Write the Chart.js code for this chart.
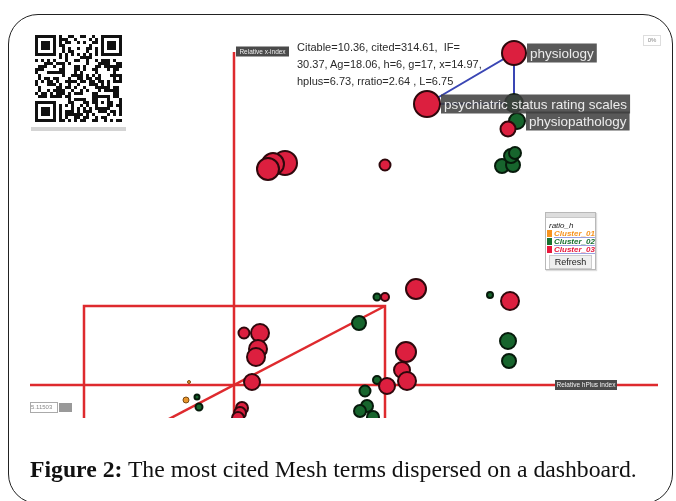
<!DOCTYPE html>
<html lang="en">
<head>
<meta charset="UTF-8">
<title>The most cited Mesh terms dispersed on a dashboard</title>
<script src="https://cdn.jsdelivr.net/npm/chart.js"></script>
<style>
  body { margin:0; width:676px; height:501px; overflow:hidden; position:relative; background:#fff; font-family:"Liberation Sans", Arial, sans-serif; }
  #frame { position:absolute; left:8px; top:14px; width:665px; height:490px; border:1px solid #222; border-radius:30px; box-sizing:border-box; }
  #chart { position:absolute; left:0; top:0; }
  #qr { position:absolute; left:35px; top:35px; }
  #qrbar { position:absolute; left:31px; top:127px; width:95px; height:4px; background:#d4d4d4; }
  #info { position:absolute; left:297px; top:39px; font-size:11px; line-height:17px; color:#2a2a2a; white-space:nowrap; }
  #pct { position:absolute; left:643px; top:35px; width:16px; height:9px; border:1px solid #ddd; font-size:6px; line-height:9px; color:#888; text-align:center; }
  #zoombox { position:absolute; left:30px; top:402px; width:26px; height:9px; border:1px solid #aaa; font-size:6px; line-height:9px; color:#888; }
  #zoombtn { position:absolute; left:59px; top:403px; width:13px; height:9px; background:#999; }
  #legend { position:absolute; left:545px; top:212px; width:49px; height:56px; border:1px solid #b8b8b8; background:#fff; box-shadow:1px 1px 1px #ddd; overflow:hidden; }
  #legend .bar { height:4px; background:#ddd; border-bottom:1px solid #c8c8c8; }
  #legend .ttl { font-size:8px; font-style:italic; color:#222; margin:3px 0 0 3px; line-height:9px; }
  #legend .item { font-size:8px; font-style:italic; font-weight:bold; line-height:8px; height:8px; margin-left:1px; white-space:nowrap; }
  #legend .item span.sw { display:inline-block; width:5px; height:7px; vertical-align:top; margin-right:2px; }
  #legend .item span.t { text-decoration:underline; text-decoration-color:#9aa0e0; }
  #legend .btn { margin:1px 3px 0 3px; height:12px; border:1px solid #ccc; background:#efefef; font-size:9px; line-height:12px; text-align:center; color:#222; }
  #caption { position:absolute; left:30px; top:456px; font-family:"Liberation Serif", "Times New Roman", serif; font-size:21px; color:#111; white-space:nowrap; }
</style>
</head>
<body>
<div id="frame"></div>
<canvas id="chart" width="676" height="501"></canvas>
<canvas id="qr" width="87" height="87"></canvas>
<div id="qrbar"></div>
<div id="info">Citable=10.36, cited=314.61,&nbsp; IF=<br>30.37, Ag=18.06, h=6, g=17, x=14.97,<br>hplus=6.73, rratio=2.64 , L=6.75</div>
<div id="pct">0%</div>
<div id="zoombox">5.11503</div>
<div id="zoombtn"></div>
<div id="legend">
  <div class="bar"></div>
  <div class="ttl">ratio_h</div>
  <div class="item"><span class="sw" style="background:#f7931e"></span><span class="t" style="color:#f7931e">Cluster_01</span></div>
  <div class="item"><span class="sw" style="background:#17702f"></span><span class="t" style="color:#17702f">Cluster_02</span></div>
  <div class="item"><span class="sw" style="background:#e8173c"></span><span class="t" style="color:#e8173c">Cluster_03</span></div>
  <div class="btn">Refresh</div>
</div>
<div id="caption"><b>Figure 2:</b> The most cited Mesh terms dispersed on a dashboard.</div>

<script>
  // cluster bubbles: relative hPlus index (x), relative x-index (y), bubble radius
  const cluster01X = [-0.45, -0.48];
  const cluster01Y = [0.03, -0.15];
  const cluster01R = [1.5, 3];

  const cluster02X = [2.80, 2.83, 2.68, 2.79, 2.77, 2.81, 1.43, 1.25, 2.56, 2.74, 2.75, 1.43, 1.31, 1.33, 1.26, 1.39, -0.37, -0.35];
  const cluster02Y = [2.82, 2.64, 2.19, 2.20, 2.29, 2.32, 0.88, 0.62, 0.90, 0.44, 0.24, 0.05, -0.06, -0.21, -0.26, -0.32, -0.12, -0.22];
  const cluster02R = [9, 8, 7, 7, 7, 6, 3.5, 7, 3, 8, 7, 4, 5.5, 6, 6, 6, 2.5, 3.5];

  const cluster03X = [2.80, 1.93, 2.74, 0.51, 0.39, 0.34, 1.51, 1.82, 1.51, 2.76, 0.10, 0.26, 0.24, 0.22, 0.18, 1.72, 1.68, 1.73, 1.53, 0.08, 0.06, 0.04];
  const cluster03Y = [3.32, 2.81, 2.56, 2.22, 2.21, 2.16, 2.20, 0.96, 0.88, 0.84, 0.52, 0.52, 0.36, 0.28, 0.03, 0.33, 0.15, 0.04, -0.01, -0.23, -0.28, -0.33];
  const cluster03R = [12, 13, 7.5, 12, 11, 11, 5.5, 10, 4, 9, 5.5, 9, 9, 9, 8, 10, 8, 9, 8, 6, 6, 6];

  // named terms: label, cluster, index in that cluster
  const termNames = ['physiology', 'psychiatric status rating scales', 'physiopathology'];
  const termCluster = ['c3', 'c3', 'c2'];
  const termIndex = [0, 1, 1];

  // co-occurrence links between terms (cluster, index)
  const linkPath = [['c3', 1], ['c3', 0], ['c2', 0], ['c3', 1]];

  // reference lines of the dashboard
  const hLineX = [-2.04, 4.24], hLineY = [0, 0];
  const vLineX = [0, 0], vLineY = [-0.33, 3.33];
  const boxX = [-1.50, -1.50, 1.51, 1.51], boxY = [-0.33, 0.79, 0.79, -0.33];
  const diagX = [1.51, -0.75], diagY = [0.79, -0.392];

  const clusters = {
    c1: [cluster01X, cluster01Y, cluster01R],
    c2: [cluster02X, cluster02Y, cluster02R],
    c3: [cluster03X, cluster03Y, cluster03R]
  };
  const bubbles = k => clusters[k][0].map((x, i) => ({ x: x, y: clusters[k][1][i], r: clusters[k][2][i] }));
  const seg = (xs, ys) => xs.map((x, i) => ({ x: x, y: ys[i] }));

  const refRed = '#de2a2e';
  const refLine = (xs, ys) => ({
    type: 'line', data: seg(xs, ys), borderColor: refRed, borderWidth: 2.5,
    pointRadius: 0, fill: false, tension: 0, order: 10, clip: 0
  });

  const linkData = linkPath.map(p => ({ x: clusters[p[0]][0][p[1]], y: clusters[p[0]][1][p[1]] }));

  const dsIndex = { c1: 5, c2: 6, c3: 7 };

  // labels for named terms and the two axis tags
  const labelPlugin = {
    id: 'termLabels',
    afterDatasetsDraw(chart) {
      const c = chart.ctx;
      const xs = chart.scales.x, ys = chart.scales.y;
      c.save();
      c.textBaseline = 'middle';
      termNames.forEach((name, i) => {
        const el = chart.getDatasetMeta(dsIndex[termCluster[i]]).data[termIndex[i]];
        const r = el.options.radius;
        c.font = '13.5px "Liberation Sans", Arial, sans-serif';
        const w = c.measureText(name).width + 6;
        const bx = el.x + r + 1, by = el.y - 9.5;
        c.fillStyle = 'rgba(62,62,62,0.86)';
        c.fillRect(bx, by, w, 19);
        c.fillStyle = '#ececec';
        c.fillText(name, bx + 3, el.y + 1);
      });
      // axis tags
      c.font = '6.5px "Liberation Sans", Arial, sans-serif';
      const tag = (txt, px, py, w) => {
        c.fillStyle = '#4a4a4a';
        c.fillRect(px, py - 5, w, 10);
        c.fillStyle = '#f0f0f0';
        c.textAlign = 'center';
        c.fillText(txt, px + w / 2, py + 0.5);
        c.textAlign = 'left';
      };
      tag('Relative x-index', xs.getPixelForValue(0) + 2, ys.getPixelForValue(vLineY[1]) - 0.5, 53);
      tag('Relative hPlus index', xs.getPixelForValue(3.21), ys.getPixelForValue(0), 62);
      c.restore();
    }
  };

  const ctx = document.getElementById('chart').getContext('2d');
  new Chart(ctx, {
    type: 'bubble',
    data: {
      datasets: [
        refLine(hLineX, hLineY),
        refLine(vLineX, vLineY),
        refLine(boxX, boxY),
        refLine(diagX, diagY),
        { type: 'line', data: linkData, borderColor: '#3a46b4', borderWidth: 2, pointRadius: 0, fill: false, tension: 0, order: 9, clip: 0 },
        { label: 'Cluster_01', data: bubbles('c1'), backgroundColor: '#e8952c', borderColor: '#7a4a10', borderWidth: 1, order: 3, clip: 0 },
        { label: 'Cluster_02', data: bubbles('c2'), backgroundColor: '#17652d', borderColor: '#061a0b', borderWidth: 2, order: 2, clip: 0 },
        { label: 'Cluster_03', data: bubbles('c3'), backgroundColor: '#dc1f3f', borderColor: '#2e080c', borderWidth: 2, order: 1, clip: 0 }
      ]
    },
    options: {
      responsive: false,
      animation: false,
      events: [],
      layout: { padding: { left: 30, top: 30, right: 18, bottom: 83 } },
      scales: {
        x: { type: 'linear', min: -2.04, max: 4.24, display: false },
        y: { type: 'linear', min: -0.33, max: 3.55, display: false }
      },
      plugins: { legend: { display: false }, tooltip: { enabled: false } }
    },
    plugins: [labelPlugin]
  });

  // QR code decoration
  (function () {
    const q = document.getElementById('qr').getContext('2d');
    const n = 29, s = 3;
    const on = (x, y) => {
      const finder = (fx, fy) => {
        const dx = x - fx, dy = y - fy;
        if (dx < 0 || dy < 0 || dx > 6 || dy > 6) return null;
        const d = Math.max(Math.abs(dx - 3), Math.abs(dy - 3));
        return d !== 2;
      };
      const f = finder(0, 0) ?? finder(22, 0) ?? finder(0, 22);
      if (f !== null) return f;
      if ((x === 7 && y < 8) || (y === 7 && x < 8) || (x === 21 && y < 8) || (y === 7 && x > 20) || (x === 7 && y > 20) || (y === 21 && x < 8)) return false;
      if (x >= 20 && x <= 24 && y >= 20 && y <= 24) return Math.max(Math.abs(x - 22), Math.abs(y - 22)) !== 1;
      if (y === 6) return x % 2 === 0;
      if (x === 6) return y % 2 === 0;
      const h = ((x * 73856093) ^ (y * 19349663) ^ (x * y * 83492791)) >>> 0;
      return (h % 11) < 5;
    };
    q.fillStyle = '#111';
    for (let y = 0; y < n; y++) for (let x = 0; x < n; x++) if (on(x, y)) q.fillRect(x * s, y * s, s, s);
  })();

  // fit caption to reference width
  (function () {
    const cap = document.getElementById('caption');
    const w = cap.getBoundingClientRect().width;
    cap.style.fontSize = (21 * 607 / w).toFixed(2) + 'px';
  })();
</script>
</body>
</html>
